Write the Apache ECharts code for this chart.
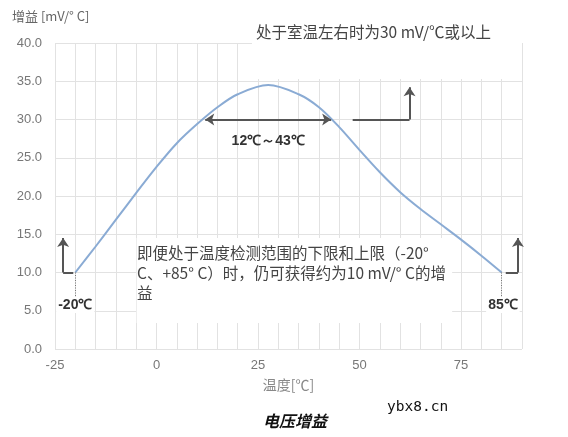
<!DOCTYPE html>
<html><head><meta charset="utf-8">
<script src="https://cdn.jsdelivr.net/npm/echarts@6/dist/echarts.min.js"></script>
<style>html,body{margin:0;padding:0;background:#fff}#c{width:568px;height:437px}</style>
</head><body><div id="c"></div>
<script>
// ---- data ----
const temps = [-20,-15,-10,-5,0,5,10,15,20,27.5,35,40,45,50,55,60,65,70,75,80,85];
const gain  = [10,13.4,16.9,20.4,23.8,26.9,29.4,31.6,33.3,34.5,33.3,31.6,29.0,26.0,23.1,20.5,18.3,16.3,14.3,12.2,10];
const xTickLabels = [-25, 0, 25, 50, 75];
const yTickValues = [0, 5, 10, 15, 20, 25, 30, 35, 40];
const yAxisTitle = '增益 [mV/° C]';
const xAxisTitle = '温度[℃]';
const captionText = '电压增益';
const topNote = '处于室温左右时为30 mV/℃或以上';
const midNote = '即便处于温度检测范围的下限和上限（-20°\nC、+85° C）时，仍可获得约为10 mV/° C的增\n益';
const rangeLabel = '12℃～43℃';
const lowLabel = '-20℃';
const highLabel = '85℃';
const watermark = 'ybx8.cn';
// annotation anchor points (data units)
const rangeEnds = [[12, 30], [43, 30]];
const rightHook = [[48.3, 30], [62.3, 30], [62.3, 34.2]];
const lowHook = [[-20.5, 10], [-23, 10], [-23, 14.5]];
const highHook = [[86, 10], [89, 10], [89, 14.5]];
const lowDrop = [[-20, 10], [-20, 6.6]];
const highDrop = [[85, 10], [85, 6.6]];
const rangeLabelAt = [27.5, 27.2];
const lowLabelAt = [-20, 5.75];
const highLabelAt = [85.3, 5.75];
const topBox = [[23.5, 35.3], [90, 41]];
const midBox = [[-4.9, 14.5], [72.8, 3.4]];

const CJK = '"Noto Sans CJK SC", sans-serif';
const LAT = '"Liberation Sans", Arial, sans-serif';
const arrowStyle = { color: '#555', width: 2, type: 'solid' };
const dotStyle = { color: '#777', width: 1, type: [1, 1.5] };

const chart = echarts.init(document.getElementById('c'), null, { renderer: 'canvas' });
chart.setOption({
  animation: false,
  backgroundColor: '#fff',
  grid: { left: 55, right: 46, top: 43, bottom: 88 },
  xAxis: {
    type: 'value', min: -25, max: 90, interval: 5,
    axisLine: { show: false }, axisTick: { show: false },
    axisLabel: {
      color: '#777', fontSize: 13, fontFamily: LAT, margin: 10,
      formatter: v => xTickLabels.includes(v) ? String(v) : ''
    },
    splitLine: { show: true, lineStyle: { color: '#e2e2e2', width: 1 } },
    name: xAxisTitle, nameLocation: 'middle', nameGap: 29,
    nameTextStyle: { color: '#888', fontSize: 14, fontFamily: CJK }
  },
  yAxis: {
    type: 'value', min: 0, max: 40, interval: 5,
    axisLine: { show: false }, axisTick: { show: false },
    axisLabel: {
      color: '#777', fontSize: 13, fontFamily: LAT, margin: 13,
      formatter: v => yTickValues.includes(v) ? v.toFixed(1) : ''
    },
    splitLine: { show: true, lineStyle: { color: '#e2e2e2', width: 1 } }
  },
  series: [
    {
      type: 'line', smooth: 0.33, symbol: 'none', z: 3,
      data: temps.map((t, i) => [t, gain[i]]),
      lineStyle: { color: '#8aabd4', width: 2 },
      markArea: {
        silent: true,
        itemStyle: { color: '#fff' },
        data: [
          [{ coord: topBox[0] }, { coord: topBox[1] }],
          [{ coord: midBox[0] }, { coord: midBox[1] }]
        ]
      }
    },
    {
      type: 'line', data: [], z: 4,
      markLine: {
        silent: true, animation: false, precision: 3,
        label: { show: false },
        symbolSize: [9, 9],
        data: [
          [{ coord: rangeEnds[0], symbol: 'arrow' }, { coord: rangeEnds[1], symbol: 'arrow', lineStyle: arrowStyle }],
          [{ coord: rightHook[0], symbol: 'none' }, { coord: rightHook[1], symbol: 'none', lineStyle: arrowStyle }],
          [{ coord: rightHook[1], symbol: 'none' }, { coord: rightHook[2], symbol: 'arrow', lineStyle: arrowStyle }],
          [{ coord: lowHook[0], symbol: 'none' }, { coord: lowHook[1], symbol: 'none', lineStyle: arrowStyle }],
          [{ coord: lowHook[1], symbol: 'none' }, { coord: lowHook[2], symbol: 'arrow', lineStyle: arrowStyle }],
          [{ coord: highHook[0], symbol: 'none' }, { coord: highHook[1], symbol: 'none', lineStyle: arrowStyle }],
          [{ coord: highHook[1], symbol: 'none' }, { coord: highHook[2], symbol: 'arrow', lineStyle: arrowStyle }],
          [{ coord: lowDrop[0], symbol: 'none' }, { coord: lowDrop[1], symbol: 'none', lineStyle: dotStyle }],
          [{ coord: highDrop[0], symbol: 'none' }, { coord: highDrop[1], symbol: 'none', lineStyle: dotStyle }]
        ],
        lineStyle: arrowStyle
      },
      markPoint: {
        silent: true, symbol: 'circle', symbolSize: 1,
        itemStyle: { color: 'rgba(0,0,0,0)' },
        label: {
          show: true, position: 'inside', color: '#333', fontWeight: 'bold',
          fontSize: 14, fontFamily: LAT, backgroundColor: '#fff', padding: [1, 2]
        },
        data: [
          { coord: rangeLabelAt, label: { formatter: rangeLabel, backgroundColor: 'transparent' } },
          { coord: lowLabelAt, label: { formatter: lowLabel } },
          { coord: highLabelAt, label: { formatter: highLabel } }
        ]
      }
    }
  ],
  graphic: [
    { type: 'text', left: 12, top: 10, z: 10,
      style: { text: yAxisTitle, fill: '#666', font: '13px ' + CJK } },
    { type: 'text', x: 256, y: 32, z: 10,
      style: { text: topNote, fill: '#444', font: '15.5px ' + CJK, verticalAlign: 'middle' } },
    { type: 'text', x: 137, y: 243, z: 10,
      style: { text: midNote, fill: '#444', font: '15.5px ' + CJK, lineHeight: 20, verticalAlign: 'top' } },
    { type: 'text', x: 263, y: 421, z: 10,
      style: { text: captionText, fill: '#111', font: 'italic bold 16px ' + CJK, verticalAlign: 'middle' } },
    { type: 'text', x: 387, y: 407, z: 10,
      style: { text: watermark, fill: '#111', font: '14.5px "DejaVu Sans Mono", monospace', verticalAlign: 'middle' } }
  ]
});
</script>
</body></html>
